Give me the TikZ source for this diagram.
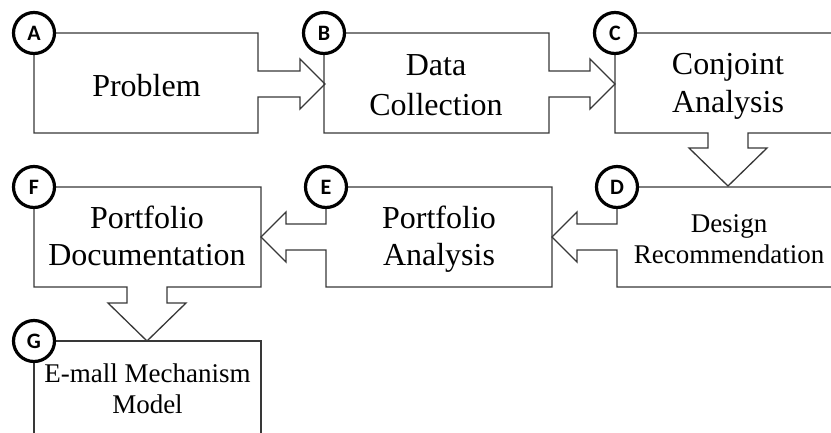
\documentclass[tikz,border=0pt]{standalone}
\usepackage{fontspec}
\setmainfont{Liberation Serif}
\newfontfamily\circfont{Carlito}
\begin{document}
\begin{tikzpicture}[x=1pt,y=-1pt,
  boxline/.style={draw=black!78, line width=1.3pt, line join=miter},
  badge/.style={circle, draw=black, line width=3.2pt, fill=white, minimum size=41pt, inner sep=0pt, font=\circfont\bfseries\fontsize{22}{22}\selectfont},
  big/.style={anchor=base, inner sep=0pt, font=\fontsize{32}{32}\selectfont},
  small/.style={anchor=base, inner sep=0pt, font=\fontsize{27}{27}\selectfont}]
\useasboundingbox (0,0) rectangle (831,432);
\clip (0,0) rectangle (831,432);
\fill[white] (0,0) rectangle (831,432);

% boxes merged with their outgoing block arrows
\draw[boxline] (34,33) -- (258,33) -- (258,71) -- (300,71) -- (300,59) -- (325,84) -- (300,109) -- (300,97) -- (258,97) -- (258,133) -- (34,133) -- cycle;
\draw[boxline] (324,33) -- (549,33) -- (549,71) -- (590,71) -- (590,59) -- (615,84) -- (590,109) -- (590,97) -- (549,97) -- (549,133) -- (324,133) -- cycle;
\draw[boxline] (615,33) -- (860,33) -- (860,133) -- (748,133) -- (748,148) -- (767,148) -- (728,186) -- (689,148) -- (708,148) -- (708,133) -- (615,133) -- cycle;
\draw[boxline] (617,187) -- (860,187) -- (860,287) -- (617,287) -- (617,250) -- (577,250) -- (577,262) -- (552,237) -- (577,212) -- (577,224) -- (617,224) -- cycle;
\draw[boxline] (326,187) -- (552,187) -- (552,287) -- (326,287) -- (326,250) -- (286,250) -- (286,262) -- (261,237) -- (286,212) -- (286,224) -- (326,224) -- cycle;
\draw[boxline] (34,187) -- (261,187) -- (261,287) -- (167,287) -- (167,303) -- (186,303) -- (147,341) -- (108,303) -- (127,303) -- (127,287) -- (34,287) -- cycle;
\draw[boxline] (34,445) -- (34,341) -- (261,341) -- (261,445);

% texts
\node[big] (tA) at (146.5,96) {Problem};
\node[big] (tB1) at (436,75) {Data};
\node[big] (tB2) at (436,115) {Collection};
\node[big] (tC1) at (728,74.5) {Conjoint};
\node[big] (tC2) at (728,112) {Analysis};
\node[small] (tD1) at (729,232) {Design};
\node[small] (tD2) at (729,263.5) {Recommendation};
\node[big] (tE1) at (439,228) {Portfolio};
\node[big] (tE2) at (439,265) {Analysis};
\node[big] (tF1) at (147,228) {Portfolio};
\node[big] (tF2) at (147,265) {Documentation};
\node[small] (tG1) at (147.5,382) {E-mall Mechanism};
\node[small] (tG2) at (147.5,413) {Model};

% letter badges
\node[badge] (A) at (34,33) {A};
\node[badge] (B) at (324,33) {B};
\node[badge] (C) at (615,33) {C};
\node[badge] (D) at (617,187) {D};
\node[badge] (E) at (326,187) {E};
\node[badge] (F) at (34,187) {F};
\node[badge] (G) at (34,341) {G};
\end{tikzpicture}
\end{document}
